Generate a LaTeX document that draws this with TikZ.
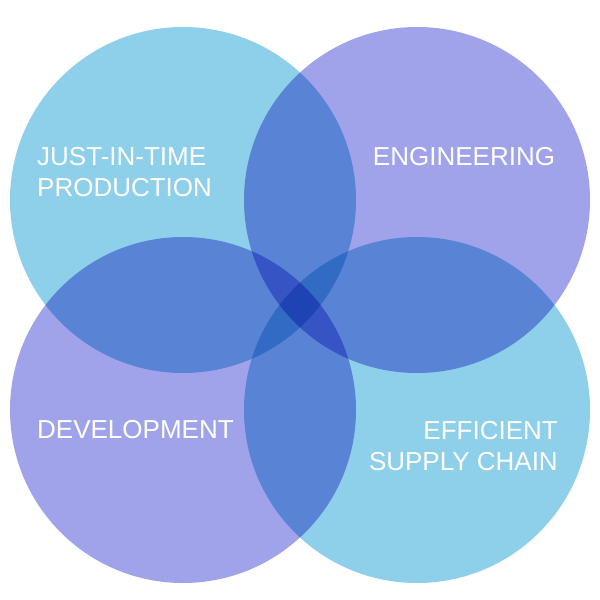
\documentclass[tikz,border=0pt]{standalone}
\usepackage{fontspec}
\setmainfont{Liberation Sans}
\definecolor{cblue}{HTML}{8ECFEA}
\definecolor{cpurp}{HTML}{A0A3EA}
\begin{document}
\begin{tikzpicture}[x=1pt,y=-1pt,
  circ/.style={blend mode=multiply, draw=none},
  lbl/.style={text=white, font=\fontsize{26}{31}\selectfont, inner sep=0pt}]
\useasboundingbox (0,0) rectangle (600,600);
\fill[white] (0,0) rectangle (600,600);
\begin{scope}[blend group=multiply]
\fill[circ,cblue] (183,200) circle (173);
\fill[circ,cpurp] (417,200) circle (173);
\fill[circ,cpurp] (183,410) circle (173);
\fill[circ,cblue] (417,410) circle (173);
\end{scope}
\node[lbl, anchor=west, align=left] (a) at (37,172) {JUST-IN-TIME\\PRODUCTION};
\node[lbl] (b) at (464,157) {ENGINEERING};
\node[lbl, anchor=west] (c) at (37,430) {DEVELOPMENT};
\node[lbl, anchor=east, align=right] (d) at (558,446) {EFFICIENT\\SUPPLY CHAIN};
\end{tikzpicture}
\end{document}
